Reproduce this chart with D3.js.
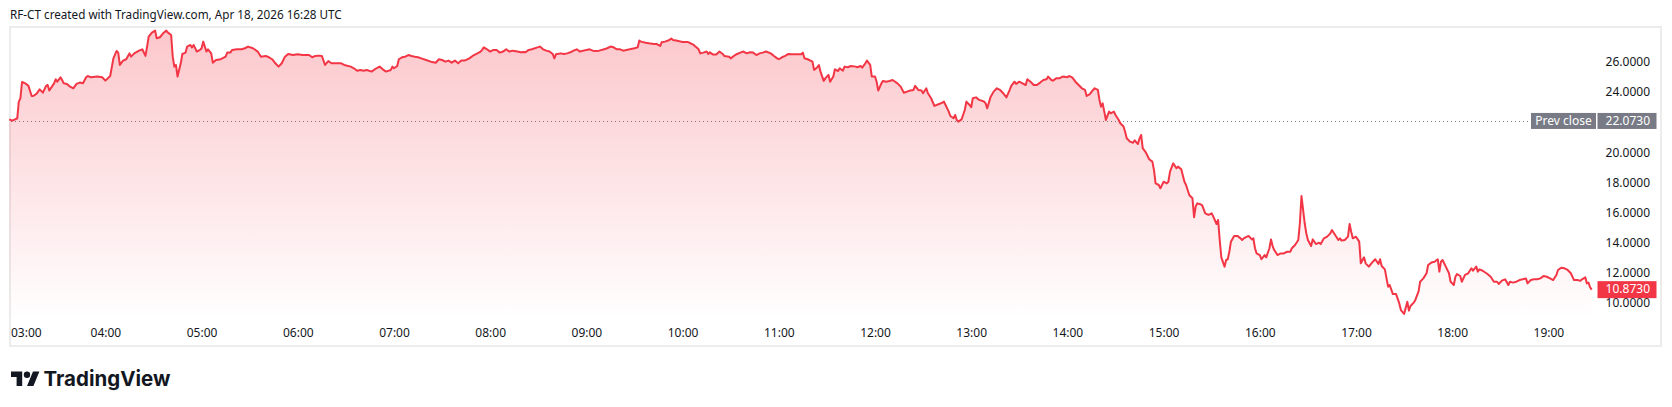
<!DOCTYPE html>
<html>
<head>
<meta charset="utf-8">
<script src="https://cdn.jsdelivr.net/npm/d3@7"></script>
<style>
  html, body { margin: 0; padding: 0; background: #ffffff; }
  svg { display: block; font-family: "Noto Sans", "Open Sans", sans-serif; }
</style>
</head>
<body>
<svg id="chart" width="1672" height="407"></svg>
<script>

// RF-CT, Apr 18 2026 - minutes after 03:00 UTC and the traded price
var minutes = [
    0,2,4,5,6,7,8,10,12,14,15,17,19,21,23,24,25,28,29,30,32,33,34,36,38,40,42,44,46,48,49,51,55,58,60,63,65,67,68,69,
    71,73,75,76,78,81,83,85,86,87,89,91,92,94,96,98,99,101,102,103,104,105,107,108,110,111,113,114,115,117,119,120,121,123,124,126,127,129,132,135,
    136,138,139,142,145,147,149,
    152,155,157,160,162,164,166,168,170,172,174,177,180,183,187,189,191,193,195,197,199,201,204,207,209,213,215,217,219,221,
    223,226,229,231,233,235,238,239,240,242,243,245,247,249,251,253,255,257,260,263,266,268,270,272,274,276,278,280,282,284,
    287,289,292,294,295,296,298,300,302,
    304,306,308,310,312,314,317,319,321,322,324,326,329,331,333,335,337,339,340,341,344,346,348,350,352,354,356,358,360,362,
    364,366,368,371,373,375,377,379,381,383,385,387,390,392,393,394,397,399,402,404,406,407,409,411,413,414,416,418,420,423,
    425,427,428,430,431,433,435,436,437,439,441,443,445,446,449,450,452,454,
    456,458,460,462,464,466,468,470,472,475,477,479,480,482,484,486,488,490,492,494,495,496,498,501,502,504,505,506,508,509,
    511,512,514,515,517,518,520,521,523,525,528,529,531,532,534,535,537,538,540,541,542,544,545,547,549,551,554,556,558,560,
    562,564,565,567,569,570,572,573,575,577,580,582,583,584,586,587,589,590,591,592,594,596,597,599,600,601,603,605,608,
    609,610,612,614,616,618,620,622,624,625,627,628,630,632,634,635,637,639,641,643,645,647,648,650,651,653,655,657,660,661,
    663,665,667,669,671,672,674,676,677,679,680,681,682,683,684,686,687,689,690,692,693,695,696,697,699,701,702,704,705,706,
    707,709,711,713,714,715,717,718,720,722,723,724,726,728,729,731,733,734,736,738,739,740,741,743,744,746,748,750,751,753,
    754,755,756,758,759,760,
    761,762,764,766,768,769,770,772,773,775,776,777,778,780,781,783,784,786,787,788,789,791,793,795,797,799,800,802,804,805,
    806,808,809,810,812,813,815,817,818,820,822,824,825,827,829,830,831,833,835,836,837,838,840,842,843,845,846,848,850,852,
    854,855,856,858,860,861,863,865,867,868,870,872,873,874,876,877,879,880,882,884,885,887,889,891,892,893,894,896,898,899,
    901,902,903,905,906,908,910,912,913,915,916,917,919,922,924,926,928,929,931,933,935,936,938,940,942,944,946,947,949,951,
    953,955,957,959,961,963,965,966,968,970,972,974,976,978,980,981,983,984,985,986,987
];

var prices = [
    22.18,22.09,22.20,22.23,23.36,23.58,24.66,24.57,24.40,23.73,23.73,23.87,24.17,23.95,24.40,24.46,24.09,24.57,24.84,24.68,
    24.97,24.79,24.57,24.53,24.35,24.24,24.53,24.62,24.57,24.97,25.06,24.97,25.02,24.97,24.75,25.06,26.23,26.72,26.61,25.79,
    26.08,26.17,26.56,26.34,26.56,26.74,26.83,26.39,27.01,27.67,27.94,28.07,27.56,27.63,27.89,28.07,27.94,27.78,26.34,25.68,
    25.79,25.02,25.90,26.52,26.61,27.01,27.12,26.96,27.12,26.68,26.79,26.90,27.34,26.68,26.83,26.56,25.94,26.12,26.17,26.34,
    26.61,26.61,26.79,26.83,26.83,26.90,27.01,
    26.90,26.68,26.34,26.39,26.30,26.17,25.90,25.68,25.90,26.34,26.52,26.45,26.50,26.45,26.45,26.30,26.39,26.41,26.39,25.79,
    26.05,25.90,25.90,25.90,25.79,25.68,25.57,25.41,25.46,25.41,25.46,25.35,25.57,25.68,25.50,25.35,25.46,25.68,25.57,25.72,
    26.17,26.30,26.34,26.45,26.39,26.34,26.30,26.23,26.12,26.01,25.94,26.17,26.12,26.01,26.08,25.94,26.08,25.90,26.08,26.08,
    26.23,26.39,26.56,26.68,26.79,26.96,26.83,26.68,26.79,
    26.79,26.61,26.68,26.83,26.68,26.74,26.68,26.63,26.65,26.63,26.79,26.83,26.94,27.01,26.83,26.74,26.68,26.52,26.23,26.50,
    26.56,26.52,26.56,26.63,26.74,26.83,26.68,26.74,26.79,26.83,26.74,26.72,26.74,26.83,26.90,27.01,26.96,26.83,26.83,26.74,
    26.79,26.83,26.90,26.96,27.41,27.34,27.27,27.23,27.18,27.18,27.05,27.30,27.34,27.41,27.54,27.45,27.41,27.36,27.32,27.32,
    27.23,27.12,27.01,26.83,26.56,26.61,26.68,26.52,26.63,26.48,26.48,26.68,26.52,26.39,26.34,26.23,26.39,26.52,
    26.61,26.68,26.56,26.63,26.61,26.45,26.56,26.61,26.68,26.56,26.39,26.23,26.17,26.30,26.39,26.52,26.50,26.50,26.50,26.50,
    26.61,26.23,26.17,26.01,25.46,25.64,25.79,25.35,24.73,24.90,25.13,24.68,25.02,25.50,25.39,25.57,25.41,25.68,25.64,25.72,
    25.68,25.64,25.72,25.61,25.90,26.08,25.79,25.02,25.02,24.68,24.09,24.57,24.73,24.68,24.73,24.79,24.57,24.35,23.95,24.02,
    24.09,24.13,24.40,24.13,24.09,23.91,24.24,23.91,23.58,23.07,23.20,23.29,23.36,23.13,22.69,22.40,22.25,22.47,22.14,22.03,
    22.18,22.80,23.36,23.13,22.98,23.58,23.64,23.47,23.36,
    23.24,22.91,23.64,24.02,24.24,24.13,23.91,23.64,24.13,24.40,24.68,24.53,24.68,24.57,24.46,24.84,24.68,24.46,24.46,24.62,
    24.79,24.84,25.02,24.79,24.75,24.90,24.90,25.02,24.97,25.06,24.97,24.68,24.46,24.24,24.13,23.73,23.86,24.13,24.24,24.13,
    23.47,23.02,23.24,22.69,22.14,22.69,22.58,22.69,22.47,22.14,21.92,21.70,21.36,20.92,20.70,20.63,20.79,20.54,20.92,21.14,
    20.26,19.97,19.53,19.37,18.82,17.93,17.82,17.60,18.04,17.93,18.04,18.71,19.26,18.93,19.04,18.86,18.04,17.82,17.16,16.94,
    15.68,16.39,16.60,16.54,16.49,15.94,15.83,15.94,15.72,15.23,15.50,14.17,13.02,12.40,12.84,12.89,
    13.39,14.06,14.44,14.44,14.28,14.17,14.28,14.39,14.44,14.21,14.28,13.62,13.28,13.17,12.89,13.17,13.02,13.62,14.21,13.77,
    13.50,13.17,13.28,13.28,13.39,13.39,13.62,13.84,14.17,15.28,17.09,15.28,14.61,14.17,13.77,14.21,13.90,13.99,13.90,14.28,
    14.39,14.61,14.83,14.50,14.17,14.28,14.13,14.17,14.39,15.23,14.72,14.28,14.39,14.06,12.62,13.02,12.62,12.40,12.67,12.89,
    12.58,12.89,12.44,12.22,11.07,11.18,10.58,10.58,9.96,9.52,9.26,10.07,9.48,9.79,10.01,10.19,10.74,11.40,11.62,11.96,
    12.51,12.67,12.73,12.89,12.07,12.73,12.84,12.40,11.96,11.40,11.18,11.73,11.91,11.78,11.40,11.85,11.96,12.29,12.13,12.40,
    12.07,12.22,12.13,11.91,11.73,11.40,11.40,11.25,11.47,11.56,11.18,11.40,11.34,11.40,11.51,11.56,11.62,11.29,11.51,11.56,
    11.56,11.62,11.78,11.73,11.62,11.51,11.85,12.18,12.33,12.29,12.18,11.96,11.51,11.51,11.47,11.56,11.69,11.29,11.34,11.03,
    10.873
];

var prevClose = 22.073;
var lastPrice = 10.873;
var yTicks = [10, 12, 14, 16, 18, 20, 24, 26];
var titleText = "RF-CT created with TradingView.com, Apr 18, 2026 16:28 UTC";

var startTime = new Date(Date.UTC(2026, 3, 18, 3, 0));
var data = minutes.map(function (m, i) {
    return { t: new Date(startTime.getTime() + m * 60000), v: prices[i] };
});

var lineColour = "#f23645";
var textColour = "#131722";
var paneTop = 27, paneBottom = 320, paneLeft = 10, paneRight = 1661;

var svg = d3.select("#chart");

var x = d3.scaleTime()
    .domain([startTime, new Date(Date.UTC(2026, 3, 18, 19, 0))])
    .range([9.2, 1548.4]);

var y = d3.scaleLinear()
    .domain([10, 26])
    .range([302.8, 61.8]);

// squeeze a text's font size so that it spans roughly the width seen in the snapshot
function fitWidth(sel, target, size) {
    var w = sel.node().getComputedTextLength();
    if (w > 0) sel.attr("font-size", (size * target / w).toFixed(2) + "px");
}

// title
var title = svg.append("text")
    .attr("x", 10)
    .attr("y", 19)
    .attr("font-size", "12.5px")
    .attr("fill", textColour)
    .text(titleText);
fitWidth(title, 332, 12.5);

// frame round the chart
svg.append("rect")
    .attr("x", paneLeft)
    .attr("y", paneTop)
    .attr("width", paneRight - paneLeft)
    .attr("height", 346 - paneTop)
    .attr("fill", "none")
    .attr("stroke", "#ececec")
    .attr("stroke-width", 2);

// area gradient
var defs = svg.append("defs");
var grad = defs.append("linearGradient")
    .attr("id", "areaGrad")
    .attr("gradientUnits", "userSpaceOnUse")
    .attr("x1", 0).attr("x2", 0)
    .attr("y1", paneTop).attr("y2", paneBottom);
grad.append("stop").attr("offset", "0%").attr("stop-color", lineColour).attr("stop-opacity", 0.28);
grad.append("stop").attr("offset", "100%").attr("stop-color", lineColour).attr("stop-opacity", 0.0);

var area = d3.area()
    .x(function (d) { return x(d.t); })
    .y0(paneBottom)
    .y1(function (d) { return y(d.v); });

var line = d3.line()
    .x(function (d) { return x(d.t); })
    .y(function (d) { return y(d.v); });

svg.append("path")
    .datum(data)
    .attr("d", area)
    .attr("fill", "url(#areaGrad)");

// prev close dotted line
var prevEndX = 1531;
svg.append("line")
    .attr("x1", paneLeft + 1)
    .attr("x2", prevEndX)
    .attr("y1", Math.round(y(prevClose)) + 0.5)
    .attr("y2", Math.round(y(prevClose)) + 0.5)
    .attr("stroke", "#787b86")
    .attr("stroke-width", 1)
    .attr("stroke-dasharray", "1,3");

svg.append("path")
    .datum(data)
    .attr("d", line)
    .attr("fill", "none")
    .attr("stroke", lineColour)
    .attr("stroke-width", 2)
    .attr("stroke-linejoin", "round");

// y axis labels (right side)
var yAxis = d3.axisRight(y)
    .tickValues(yTicks)
    .tickSize(0)
    .tickPadding(0)
    .tickFormat(d3.format(".4f"));

var yAxisG = svg.append("g")
    .attr("transform", "translate(1650,0)")
    .call(yAxis);
yAxisG.select(".domain").remove();
yAxisG.selectAll("text")
    .attr("text-anchor", "end")
    .attr("x", 0)
    .attr("font-family", "\"Noto Sans\", sans-serif")
    .attr("font-size", "12px")
    .attr("fill", textColour);

// x axis labels
var xAxis = d3.axisBottom(x)
    .ticks(d3.utcHour.every(1))
    .tickSize(0)
    .tickPadding(0)
    .tickFormat(d3.utcFormat("%H:%M"));

var xAxisG = svg.append("g")
    .attr("transform", "translate(0,333)")
    .call(xAxis);
xAxisG.select(".domain").remove();
xAxisG.selectAll("text")
    .attr("dy", "0.35em")
    .attr("font-family", "\"Noto Sans\", sans-serif")
    .attr("font-size", "12px")
    .attr("fill", textColour);
// keep the first label inside the frame
xAxisG.selectAll(".tick").each(function () {
    var t = d3.select(this).select("text");
    var tr = d3.select(this).attr("transform");
    var px = +tr.match(/translate\(([-\d.]+)/)[1];
    var w = t.node().getComputedTextLength();
    if (px - w / 2 < paneLeft + 1) {
        t.attr("text-anchor", "start").attr("x", paneLeft + 1 - px);
    }
});

// prev close labels
var pcY = y(prevClose);
svg.append("rect")
    .attr("x", 1531).attr("y", pcY - 8)
    .attr("width", 65).attr("height", 16)
    .attr("fill", "#787b86");
svg.append("text")
    .attr("x", 1531 + 32.5).attr("y", pcY)
    .attr("dy", "0.35em")
    .attr("text-anchor", "middle")
    .attr("font-size", "12px")
    .attr("fill", "#ffffff")
    .text("Prev close");
svg.append("rect")
    .attr("x", 1597.5).attr("y", pcY - 8)
    .attr("width", 59).attr("height", 16)
    .attr("fill", "#787b86");
svg.append("text")
    .attr("x", 1650).attr("y", pcY)
    .attr("dy", "0.35em")
    .attr("text-anchor", "end")
    .attr("font-size", "12px")
    .attr("fill", "#ffffff")
    .text(d3.format(".4f")(prevClose));

// last price label
var lpY = y(lastPrice);
svg.append("rect")
    .attr("x", 1597.5).attr("y", lpY - 8.5)
    .attr("width", 59).attr("height", 17)
    .attr("fill", lineColour);
svg.append("text")
    .attr("x", 1650).attr("y", lpY)
    .attr("dy", "0.32em")
    .attr("text-anchor", "end")
    .attr("font-size", "12px")
    .attr("fill", "#ffffff")
    .text(d3.format(".4f")(lastPrice));

// TradingView logo
var logo = svg.append("g").attr("transform", "translate(11,368.3) scale(0.8)");
logo.append("path")
    .attr("d", "M14 22H7V11H0V4h14v18zM28 22h-8l7.5-18h8L28 22z")
    .attr("fill", "#131722");
logo.append("circle")
    .attr("cx", 20).attr("cy", 8).attr("r", 4)
    .attr("fill", "#131722");
var brand = svg.append("text")
    .attr("x", 43.5)
    .attr("y", 385.5)
    .attr("font-family", "Inter, sans-serif")
    .attr("font-weight", 700)
    .attr("font-size", "20px")
    .attr("fill", "#131722")
    .text("TradingView");
fitWidth(brand, 127, 20);

</script>
</body>
</html>
